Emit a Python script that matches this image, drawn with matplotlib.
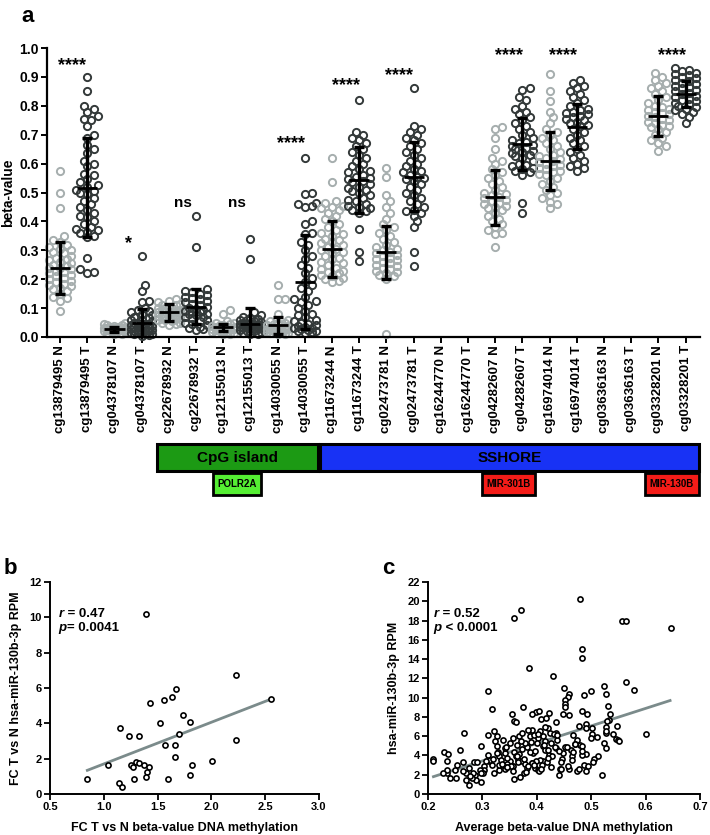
import numpy as np
import matplotlib
matplotlib.use("Agg")
import matplotlib.pyplot as plt
from matplotlib.patches import Rectangle
from matplotlib.transforms import blended_transform_factory

plt.rcParams['font.family'] = ['Liberation Sans', 'DejaVu Sans']
plt.rcParams['font.weight'] = 'bold'
plt.rcParams['axes.labelweight'] = 'bold'

# ---- panel a data ----
probes = ['cg13879495', 'cg04378107', 'cg22678932', 'cg12155013', 'cg14030055',
          'cg11673244', 'cg02473781', 'cg16244770', 'cg04282607', 'cg16974014',
          'cg03636163', 'cg03328201']
labels_a = [p + ' ' + s for p in probes for s in ['N', 'T']]

g00 = [0.575, 0.50, 0.445, 0.35, 0.335, 0.33, 0.32, 0.31, 0.305, 0.30, 0.295, 0.29, 0.28, 0.275, 0.27,
       0.265, 0.26, 0.255, 0.25, 0.245, 0.24, 0.24, 0.235, 0.23, 0.225, 0.22, 0.215, 0.21, 0.205, 0.2,
       0.195, 0.19, 0.185, 0.18, 0.175, 0.17, 0.165, 0.16, 0.15, 0.14, 0.135, 0.125, 0.09]
g01 = [0.90, 0.85, 0.80, 0.79, 0.78, 0.765, 0.755, 0.75, 0.73, 0.70, 0.69, 0.665, 0.65, 0.635, 0.61,
       0.60, 0.59, 0.565, 0.56, 0.545, 0.535, 0.525, 0.52, 0.51, 0.505, 0.50, 0.495, 0.48, 0.47, 0.46,
       0.45, 0.44, 0.43, 0.42, 0.415, 0.40, 0.39, 0.38, 0.375, 0.37, 0.365, 0.36, 0.35, 0.345, 0.275,
       0.235, 0.225, 0.22]
g02 = [0.05, 0.045, 0.04, 0.035, 0.035, 0.03, 0.03, 0.03, 0.028, 0.027, 0.025, 0.025, 0.022, 0.02,
       0.02, 0.018, 0.015, 0.012, 0.01, 0.03, 0.025, 0.04, 0.02, 0.033, 0.037]
g03 = [0.28, 0.18, 0.16, 0.125, 0.12, 0.10, 0.095, 0.09, 0.085, 0.08, 0.075, 0.07, 0.065, 0.06, 0.06,
       0.055, 0.05, 0.05, 0.045, 0.045, 0.04, 0.04, 0.038, 0.035, 0.035, 0.032, 0.03, 0.03, 0.028,
       0.025, 0.025, 0.022, 0.02, 0.02, 0.018, 0.015, 0.015, 0.012, 0.01, 0.01, 0.008, 0.005]
g04 = [0.13, 0.125, 0.12, 0.115, 0.11, 0.105, 0.10, 0.10, 0.095, 0.09, 0.09, 0.088, 0.085, 0.082,
       0.08, 0.078, 0.075, 0.072, 0.07, 0.068, 0.065, 0.062, 0.06, 0.058, 0.055, 0.05, 0.048, 0.045,
       0.04, 0.11, 0.1, 0.092, 0.086, 0.074, 0.066]
g05 = [0.42, 0.31, 0.165, 0.16, 0.155, 0.15, 0.145, 0.14, 0.135, 0.13, 0.125, 0.12, 0.115, 0.11,
       0.105, 0.10, 0.098, 0.095, 0.09, 0.088, 0.085, 0.08, 0.078, 0.075, 0.07, 0.068, 0.065, 0.06,
       0.055, 0.05, 0.045, 0.04, 0.035, 0.03, 0.028, 0.025]
g06 = [0.093, 0.08, 0.055, 0.05, 0.048, 0.045, 0.042, 0.04, 0.038, 0.036, 0.035, 0.034, 0.032, 0.03,
       0.03, 0.029, 0.028, 0.026, 0.025, 0.024, 0.022, 0.02, 0.018, 0.016, 0.015, 0.013, 0.012, 0.01]
g07 = [0.34, 0.27, 0.085, 0.075, 0.07, 0.065, 0.062, 0.06, 0.058, 0.055, 0.052, 0.05, 0.048, 0.046,
       0.045, 0.044, 0.042, 0.04, 0.04, 0.038, 0.036, 0.035, 0.034, 0.032, 0.03, 0.03, 0.028, 0.026,
       0.025, 0.022, 0.02, 0.018, 0.015, 0.012, 0.01]
g08 = [0.18, 0.13, 0.13, 0.08, 0.06, 0.055, 0.05, 0.048, 0.045, 0.042, 0.04, 0.038, 0.036, 0.034,
       0.032, 0.03, 0.029, 0.028, 0.026, 0.025, 0.024, 0.022, 0.02, 0.018, 0.016, 0.015, 0.013, 0.012, 0.01]
g09 = [0.62, 0.50, 0.495, 0.465, 0.46, 0.455, 0.45, 0.40, 0.39, 0.36, 0.355, 0.33, 0.32, 0.30, 0.28,
       0.27, 0.25, 0.24, 0.22, 0.205, 0.19, 0.18, 0.17, 0.16, 0.14, 0.13, 0.125, 0.12, 0.11, 0.10, 0.09,
       0.08, 0.075, 0.07, 0.06, 0.055, 0.05, 0.045, 0.04, 0.038, 0.035, 0.032, 0.03, 0.028, 0.025,
       0.022, 0.02, 0.018, 0.015]
g10 = [0.62, 0.535, 0.47, 0.465, 0.455, 0.45, 0.445, 0.44, 0.43, 0.42, 0.41, 0.40, 0.39, 0.38, 0.37,
       0.36, 0.355, 0.35, 0.34, 0.335, 0.33, 0.325, 0.32, 0.31, 0.305, 0.30, 0.295, 0.29, 0.28, 0.275,
       0.27, 0.26, 0.255, 0.25, 0.24, 0.235, 0.23, 0.225, 0.22, 0.215, 0.21, 0.205, 0.2, 0.195, 0.19]
g11 = [0.82, 0.71, 0.70, 0.69, 0.68, 0.67, 0.66, 0.65, 0.64, 0.63, 0.62, 0.61, 0.60, 0.59, 0.58,
       0.575, 0.57, 0.56, 0.555, 0.55, 0.545, 0.54, 0.535, 0.53, 0.52, 0.515, 0.51, 0.505, 0.50, 0.49,
       0.48, 0.475, 0.47, 0.46, 0.455, 0.45, 0.445, 0.44, 0.435, 0.43, 0.375, 0.293, 0.263]
g12 = [0.585, 0.555, 0.49, 0.47, 0.45, 0.43, 0.41, 0.39, 0.38, 0.37, 0.36, 0.35, 0.34, 0.33, 0.32,
       0.31, 0.305, 0.30, 0.295, 0.29, 0.285, 0.28, 0.275, 0.27, 0.265, 0.26, 0.255, 0.25, 0.245, 0.24,
       0.235, 0.23, 0.225, 0.22, 0.215, 0.21, 0.2, 0.01]
g13 = [0.86, 0.73, 0.72, 0.71, 0.70, 0.69, 0.68, 0.67, 0.66, 0.65, 0.64, 0.63, 0.62, 0.61, 0.60, 0.59,
       0.58, 0.575, 0.57, 0.56, 0.555, 0.55, 0.545, 0.54, 0.53, 0.52, 0.51, 0.50, 0.49, 0.48, 0.47,
       0.46, 0.45, 0.44, 0.435, 0.43, 0.42, 0.40, 0.38, 0.295, 0.246]
g16 = [0.725, 0.72, 0.69, 0.65, 0.62, 0.61, 0.6, 0.58, 0.57, 0.56, 0.55, 0.54, 0.53, 0.52, 0.51, 0.50,
       0.495, 0.49, 0.485, 0.48, 0.475, 0.47, 0.465, 0.46, 0.455, 0.45, 0.445, 0.44, 0.43, 0.42, 0.41,
       0.40, 0.39, 0.38, 0.37, 0.36, 0.355, 0.312]
g17 = [0.86, 0.855, 0.83, 0.82, 0.80, 0.79, 0.78, 0.77, 0.76, 0.75, 0.74, 0.73, 0.72, 0.71, 0.70,
       0.69, 0.68, 0.675, 0.67, 0.665, 0.66, 0.655, 0.65, 0.645, 0.64, 0.635, 0.63, 0.625, 0.62, 0.61,
       0.60, 0.595, 0.59, 0.585, 0.58, 0.575, 0.57, 0.56, 0.462, 0.43]
g18 = [0.91, 0.85, 0.817, 0.78, 0.76, 0.74, 0.72, 0.71, 0.70, 0.69, 0.68, 0.67, 0.66, 0.65, 0.64,
       0.63, 0.625, 0.62, 0.615, 0.61, 0.605, 0.60, 0.595, 0.59, 0.585, 0.58, 0.575, 0.57, 0.565, 0.56,
       0.55, 0.54, 0.53, 0.52, 0.51, 0.50, 0.49, 0.48, 0.468, 0.46, 0.445]
g19 = [0.89, 0.88, 0.87, 0.86, 0.85, 0.84, 0.83, 0.82, 0.81, 0.80, 0.79, 0.785, 0.78, 0.775, 0.77,
       0.765, 0.76, 0.755, 0.75, 0.745, 0.74, 0.735, 0.73, 0.72, 0.71, 0.70, 0.69, 0.68, 0.67, 0.66,
       0.65, 0.64, 0.63, 0.62, 0.61, 0.60, 0.59, 0.585, 0.575]
g22 = [0.915, 0.90, 0.89, 0.88, 0.87, 0.86, 0.85, 0.84, 0.83, 0.82, 0.81, 0.80, 0.795, 0.79, 0.785,
       0.78, 0.775, 0.77, 0.765, 0.76, 0.755, 0.75, 0.745, 0.74, 0.735, 0.73, 0.725, 0.72, 0.71, 0.70,
       0.69, 0.68, 0.67, 0.66, 0.645]
g23 = [0.93, 0.925, 0.92, 0.915, 0.91, 0.905, 0.90, 0.895, 0.89, 0.885, 0.88, 0.875, 0.87, 0.865,
       0.86, 0.855, 0.85, 0.845, 0.84, 0.835, 0.83, 0.825, 0.82, 0.815, 0.81, 0.805, 0.80, 0.795, 0.79,
       0.785, 0.78, 0.77, 0.76, 0.742]
groups = [g00, g01, g02, g03, g04, g05, g06, g07, g08, g09, g10, g11, g12, g13,
          [], [], g16, g17, g18, g19, [], [], g22, g23]

means = [0.24, 0.517, 0.027, 0.048, 0.085, 0.105, 0.033, 0.045, 0.04, 0.19, 0.305, 0.543,
         0.293, 0.555, np.nan, np.nan, 0.483, 0.667, 0.609, 0.727, np.nan, np.nan, 0.766, 0.842]
sds = [0.09, 0.17, 0.008, 0.05, 0.03, 0.06, 0.013, 0.055, 0.03, 0.163, 0.098, 0.113,
       0.092, 0.12, np.nan, np.nan, 0.095, 0.09, 0.1, 0.078, np.nan, np.nan, 0.069, 0.045]

sig_text = ['****', '*', 'ns', 'ns', '****', '****', '****', '****', '****', '****']
sig_x = [0.45, 2.5, 4.5, 6.5, 8.5, 10.5, 12.45, 16.5, 18.5, 22.5]
sig_y = [0.95, 0.335, 0.463, 0.463, 0.68, 0.883, 0.918, 0.984, 0.984, 0.984]

regions = ['CpG island', 'SSHORE']
region_start = [4, 10]
region_end = [9, 23]
region_colors = ['#1c9a14', '#1832f5']
genes = ['POLR2A', 'MIR-301B', 'MIR-130B']
gene_center = [6.5, 16.5, 22.5]
gene_width = [1.75, 1.95, 2.0]
gene_colors = ['#55ee33', '#f41c18', '#f41c18']

# ---- panel b data ----
fc_meth = [0.847, 1.035, 1.14, 1.17, 1.155, 1.23, 1.33, 1.25, 1.27, 1.28, 1.30, 1.33, 1.37, 1.42,
           1.40, 1.39, 1.39, 1.43, 1.52, 1.56, 1.57, 1.60, 1.63, 1.67, 1.66, 1.66, 1.70, 1.74, 1.80,
           1.80, 1.82, 2.01, 2.23, 2.23, 2.55]
fc_mir = [0.85, 1.64, 0.62, 0.38, 3.76, 3.27, 3.29, 1.66, 1.54, 0.85, 1.82, 1.73, 1.62, 1.52,
          1.26, 0.94, 10.17, 5.13, 4.0, 5.32, 2.75, 0.85, 5.49, 5.92, 2.76, 2.07, 3.39, 4.46, 4.06,
          1.07, 1.62, 1.88, 3.05, 6.73, 5.36]
fit_b_x = [0.847, 2.55]
fit_b_y = [1.34, 5.36]

# ---- panel c data ----
avg_meth = [0.48, 0.371, 0.358, 0.556, 0.564, 0.647, 0.484, 0.484, 0.385, 0.43, 0.564, 0.579, 0.311,
            0.45, 0.524, 0.527, 0.50, 0.486, 0.459, 0.457, 0.451, 0.451, 0.452, 0.374, 0.317, 0.355,
            0.358, 0.362, 0.53, 0.484, 0.493, 0.46, 0.448, 0.398, 0.404, 0.423, 0.535, 0.532, 0.529,
            0.408, 0.417, 0.435, 0.391, 0.391, 0.477, 0.49, 0.49, 0.502, 0.501, 0.527, 0.528, 0.527,
            0.547, 0.54, 0.545, 0.55, 0.551, 0.60, 0.524, 0.527, 0.513, 0.505, 0.503, 0.49, 0.52,
            0.49, 0.484, 0.48, 0.483, 0.484, 0.474, 0.467, 0.463, 0.464, 0.464, 0.46, 0.473, 0.442,
            0.444, 0.44, 0.452, 0.449, 0.447, 0.435, 0.437, 0.435, 0.424, 0.42, 0.415, 0.406, 0.411,
            0.403, 0.40, 0.411, 0.418, 0.423, 0.428, 0.411, 0.418, 0.405, 0.399, 0.391, 0.396, 0.403,
            0.393, 0.387, 0.382, 0.379, 0.371, 0.368, 0.373, 0.384, 0.388, 0.363, 0.359, 0.362, 0.366,
            0.373, 0.379, 0.382, 0.376, 0.37, 0.358, 0.354, 0.35, 0.346, 0.341, 0.341, 0.338, 0.327,
            0.324, 0.327, 0.329, 0.33, 0.334, 0.337, 0.341, 0.331, 0.322, 0.322, 0.31, 0.31, 0.313,
            0.317, 0.303, 0.303, 0.298, 0.297, 0.287, 0.288, 0.283, 0.281, 0.276, 0.27, 0.269, 0.275,
            0.265, 0.264, 0.267, 0.258, 0.254, 0.25, 0.252, 0.241, 0.235, 0.235, 0.23, 0.237, 0.235,
            0.228, 0.21, 0.21, 0.284, 0.29, 0.295, 0.302, 0.314, 0.351, 0.345, 0.356, 0.395, 0.415,
            0.432, 0.47, 0.478, 0.365, 0.33, 0.345, 0.415, 0.455, 0.5, 0.51, 0.392, 0.404, 0.42,
            0.336, 0.343, 0.352, 0.357, 0.367, 0.377, 0.383, 0.389, 0.397, 0.402, 0.409, 0.414,
            0.421, 0.427, 0.433, 0.438, 0.445, 0.458, 0.466, 0.471, 0.487, 0.495, 0.356, 0.363,
            0.372, 0.381, 0.394, 0.407, 0.426, 0.441, 0.319, 0.326, 0.345, 0.298, 0.306, 0.278]
avg_mir = [20.2, 19.07, 18.3, 18.0, 18.0, 17.2, 15.0, 14.1, 13.07, 12.2, 11.6, 10.8, 10.7, 11.0,
           11.2, 10.4, 10.7, 10.3, 10.4, 10.1, 9.76, 9.34, 9.07, 9.03, 8.86, 8.27, 7.55, 7.5, 9.17,
           8.66, 8.3, 8.24, 8.34, 8.48, 8.66, 8.45, 8.3, 7.7, 7.6, 7.8, 7.86, 7.45, 8.34, 6.65, 7.1,
           7.3, 6.86, 6.83, 6.2, 7.0, 6.3, 6.5, 7.07, 6.24, 5.7, 5.6, 5.45, 6.24, 5.3, 4.8, 3.97, 3.6,
           3.35, 2.34, 1.93, 4.2, 4.07, 5.1, 4.93, 4.5, 5.6, 6.14, 4.58, 3.9, 3.55, 2.6, 2.4, 2.6,
           2.55, 2.0, 4.83, 4.24, 3.66, 4.76, 5.6, 6.3, 6.3, 6.9, 7.0, 6.5, 5.97, 5.8, 5.3, 4.93, 4.6,
           4.07, 3.9, 3.38, 3.35, 3.55, 3.38, 3.2, 2.7, 2.45, 4.24, 4.4, 4.83, 5.3, 5.45, 5.97, 6.3,
           6.6, 5.97, 5.1, 4.4, 3.9, 3.55, 3.38, 3.14, 2.7, 2.2, 1.76, 1.55, 2.86, 3.38, 3.7, 4.24,
           4.76, 5.6, 5.97, 5.45, 4.93, 4.4, 3.9, 3.48, 3.03, 2.6, 2.52, 2.17, 6.55, 6.14, 4.07, 3.38,
           3.03, 2.86, 2.52, 4.93, 1.2, 2.0, 1.48, 2.17, 1.66, 0.97, 1.48, 2.17, 2.69, 2.41, 3.31, 6.3,
           4.59, 3.03, 2.52, 1.66, 1.66, 2.17, 3.38, 4.31, 4.17, 2.52, 2.17, 3.62, 3.45, 3.28, 3.31,
           2.52, 2.17, 3.55, 5.28, 3.1, 2.9, 6.1, 4.6, 6.2, 5.2, 2.6, 3.3, 3.0, 2.8, 5.5, 4.9, 5.8,
           5.9, 3.2, 2.4, 4.6,
           3.1, 4.9, 2.9, 5.8, 4.1, 3.6, 2.9, 5.4, 4.5, 6.2, 3.0, 5.1, 3.7, 2.8, 4.9, 6.1, 3.3, 2.9,
           4.4, 5.2, 3.0, 2.9, 2.4, 3.9, 4.7, 2.3, 3.0, 2.6, 5.3, 4.5, 3.6, 4.3, 2.8, 2.2, 3.4, 1.9]
fit_c_x = [0.21, 0.645]
fit_c_y = [1.8, 9.7]

N_COLOR = '#a6aeae'
T_COLOR = '#333939'
LINE_COLOR = '#7b8b8b'


def swarm(vals, py, px, diam=7.2, max_px=11.5):
    # simple beeswarm: returns x offsets (category units) for sorted values
    vals = np.sort(np.asarray(vals, dtype=float))
    placed = []
    offs = []
    step = diam * 0.5
    cands = [0.0]
    k = 1
    while k * step <= max_px:
        cands += [k * step, -k * step]
        k += 1
    for v in vals:
        y = v * py
        best = None
        best_d = -1
        for c in cands:
            near = [np.hypot(c - ox, y - oy) for ox, oy in placed if abs(y - oy) < diam]
            d = min(near) if near else 99
            if d >= diam * 0.85:
                best = c
                break
            if d > best_d:
                best_d = d
                best_alt = c
        if best is None:
            best = best_alt
        placed.append((best, y))
        offs.append(best / px)
    return vals, np.array(offs)


fig = plt.figure(figsize=(7.1, 8.35), dpi=100)
W, H = 710.0, 835.0

# ================= panel a =================
ax = fig.add_axes([47 / W, 1 - 337 / H, (700 - 47) / W, (337 - 48) / H])
n_cat = len(labels_a)
ax.set_xlim(-0.48, n_cat - 0.47)
ax.set_ylim(0, 1.0)
px_per_cat = (700 - 47) / (n_cat - 0.47 + 0.48)
px_per_val = 289.0

for i, g in enumerate(groups):
    col = N_COLOR if i % 2 == 0 else T_COLOR
    if len(g):
        vals, offs = swarm(g, px_per_val, px_per_cat)
        ax.plot(i + offs, vals, 'o', ms=5.2, mfc='none', mec=col, mew=1.4, zorder=2, clip_on=False)
    if not np.isnan(means[i]):
        ax.errorbar(i, means[i], yerr=sds[i], fmt='none', ecolor='black', elinewidth=2.4,
                    capsize=3.3, capthick=2.4, zorder=4)
        ax.hlines(means[i], i - 0.37, i + 0.37, color='black', lw=2.0, zorder=4)

for t, x, y in zip(sig_text, sig_x, sig_y):
    if t == 'ns':
        ax.text(x, y, t, ha='center', va='center', fontsize=11, fontweight='bold')
    else:
        ax.text(x, y - 0.012, t, ha='center', va='center', fontsize=13, fontweight='bold')

ax.set_xticks(range(n_cat))
ax.set_xticklabels(labels_a, rotation=90, fontsize=9.5, fontweight='bold')
ax.set_yticks(np.arange(0, 1.01, 0.1))
ax.set_yticklabels(['%.1f' % v for v in np.arange(0, 1.01, 0.1)], fontsize=10, fontweight='bold')
ax.set_ylabel('beta-value', fontsize=10, fontweight='bold', labelpad=3)
for s in ['top', 'right']:
    ax.spines[s].set_visible(False)
for s in ['left', 'bottom']:
    ax.spines[s].set_linewidth(1.6)
ax.tick_params(width=1.4, length=4, pad=2)

# annotation boxes under the axis
tr = blended_transform_factory(ax.transData, fig.transFigure)
for name, s, e, c in zip(regions, region_start, region_end, region_colors):
    x0 = s - 0.44
    x1 = e + 0.5
    ax.add_patch(Rectangle((x0, 1 - 471 / H), x1 - x0, 27 / H, transform=tr, clip_on=False,
                           facecolor=c, edgecolor='black', lw=2.2))
    ax.text((x0 + x1) / 2, 1 - 457.5 / H, name, transform=tr, ha='center', va='center',
            fontsize=11, fontweight='bold', color='black')
for name, cx, w, c in zip(genes, gene_center, gene_width, gene_colors):
    ax.add_patch(Rectangle((cx - w / 2, 1 - 495 / H), w, 22 / H, transform=tr, clip_on=False,
                           facecolor=c, edgecolor='black', lw=2.0))
    ax.text(cx, 1 - 484 / H, name, transform=tr, ha='center', va='center',
            fontsize=7, fontweight='bold', color='black')

fig.text(28 / W, 1 - 16 / H, 'a', fontsize=16, fontweight='bold', ha='center', va='center')

# ================= panel b =================
axb = fig.add_axes([50 / W, 1 - 794 / H, (319 - 50) / W, (794 - 582) / H])
axb.plot(fit_b_x, fit_b_y, color=LINE_COLOR, lw=2.0, zorder=1)
axb.plot(fc_meth, fc_mir, 'o', ms=3.7, mfc='white', mec='black', mew=1.2, zorder=2)
axb.set_xlim(0.5, 3.0)
axb.set_ylim(0, 12)
axb.set_xticks(np.arange(0.5, 3.01, 0.5))
axb.set_xticklabels(['%.1f' % v for v in np.arange(0.5, 3.01, 0.5)])
axb.set_yticks(range(0, 13, 2))
axb.set_xlabel('FC T vs N beta-value DNA methylation', fontsize=9, fontweight='bold', labelpad=7)
axb.set_ylabel('FC T vs N hsa-miR-130b-3p RPM', fontsize=9, fontweight='bold', labelpad=5)
t1 = axb.text(0.58, 10.2, 'r', fontsize=9.5, fontweight='bold', style='italic', va='center')
axb.annotate(' = 0.47', xy=(1, 0), xycoords=t1, va='bottom', fontsize=9.5, fontweight='bold')
t2 = axb.text(0.58, 9.4, 'p', fontsize=9.5, fontweight='bold', style='italic', va='center')
axb.annotate('= 0.0041', xy=(1, 0), xycoords=t2, va='bottom', fontsize=9.5, fontweight='bold')
fig.text(10 / W, 1 - 569 / H, 'b', fontsize=16, fontweight='bold', ha='center', va='center')

# ================= panel c =================
axc = fig.add_axes([428 / W, 1 - 794 / H, (700 - 428) / W, (794 - 582) / H])
axc.plot(fit_c_x, fit_c_y, color=LINE_COLOR, lw=2.0, zorder=1)
axc.plot(avg_meth, avg_mir, 'o', ms=3.7, mfc='white', mec='black', mew=1.2, zorder=2, clip_on=False)
axc.set_xlim(0.2, 0.7)
axc.set_ylim(0, 22)
axc.set_xticks(np.arange(0.2, 0.71, 0.1))
axc.set_xticklabels(['%.1f' % v for v in np.arange(0.2, 0.71, 0.1)])
axc.set_yticks(range(0, 23, 2))
axc.set_xlabel('Average beta-value DNA methylation', fontsize=9, fontweight='bold', labelpad=7)
axc.set_ylabel('hsa-miR-130b-3p RPM', fontsize=9, fontweight='bold', labelpad=5)
t3 = axc.text(0.21, 18.7, 'r', fontsize=9.5, fontweight='bold', style='italic', va='center')
axc.annotate(' = 0.52', xy=(1, 0), xycoords=t3, va='bottom', fontsize=9.5, fontweight='bold')
t4 = axc.text(0.21, 17.2, 'p', fontsize=9.5, fontweight='bold', style='italic', va='center')
axc.annotate(' < 0.0001', xy=(1, 0), xycoords=t4, va='bottom', fontsize=9.5, fontweight='bold')
fig.text(388 / W, 1 - 569 / H, 'c', fontsize=16, fontweight='bold', ha='center', va='center')

for a in [axb, axc]:
    for s in ['top', 'right']:
        a.spines[s].set_visible(False)
    for s in ['left', 'bottom']:
        a.spines[s].set_linewidth(1.4)
    a.tick_params(width=1.3, length=4, labelsize=8, pad=2)
    for lab in a.get_xticklabels() + a.get_yticklabels():
        lab.set_fontweight('bold')

fig.savefig('out.png', dpi=100)
